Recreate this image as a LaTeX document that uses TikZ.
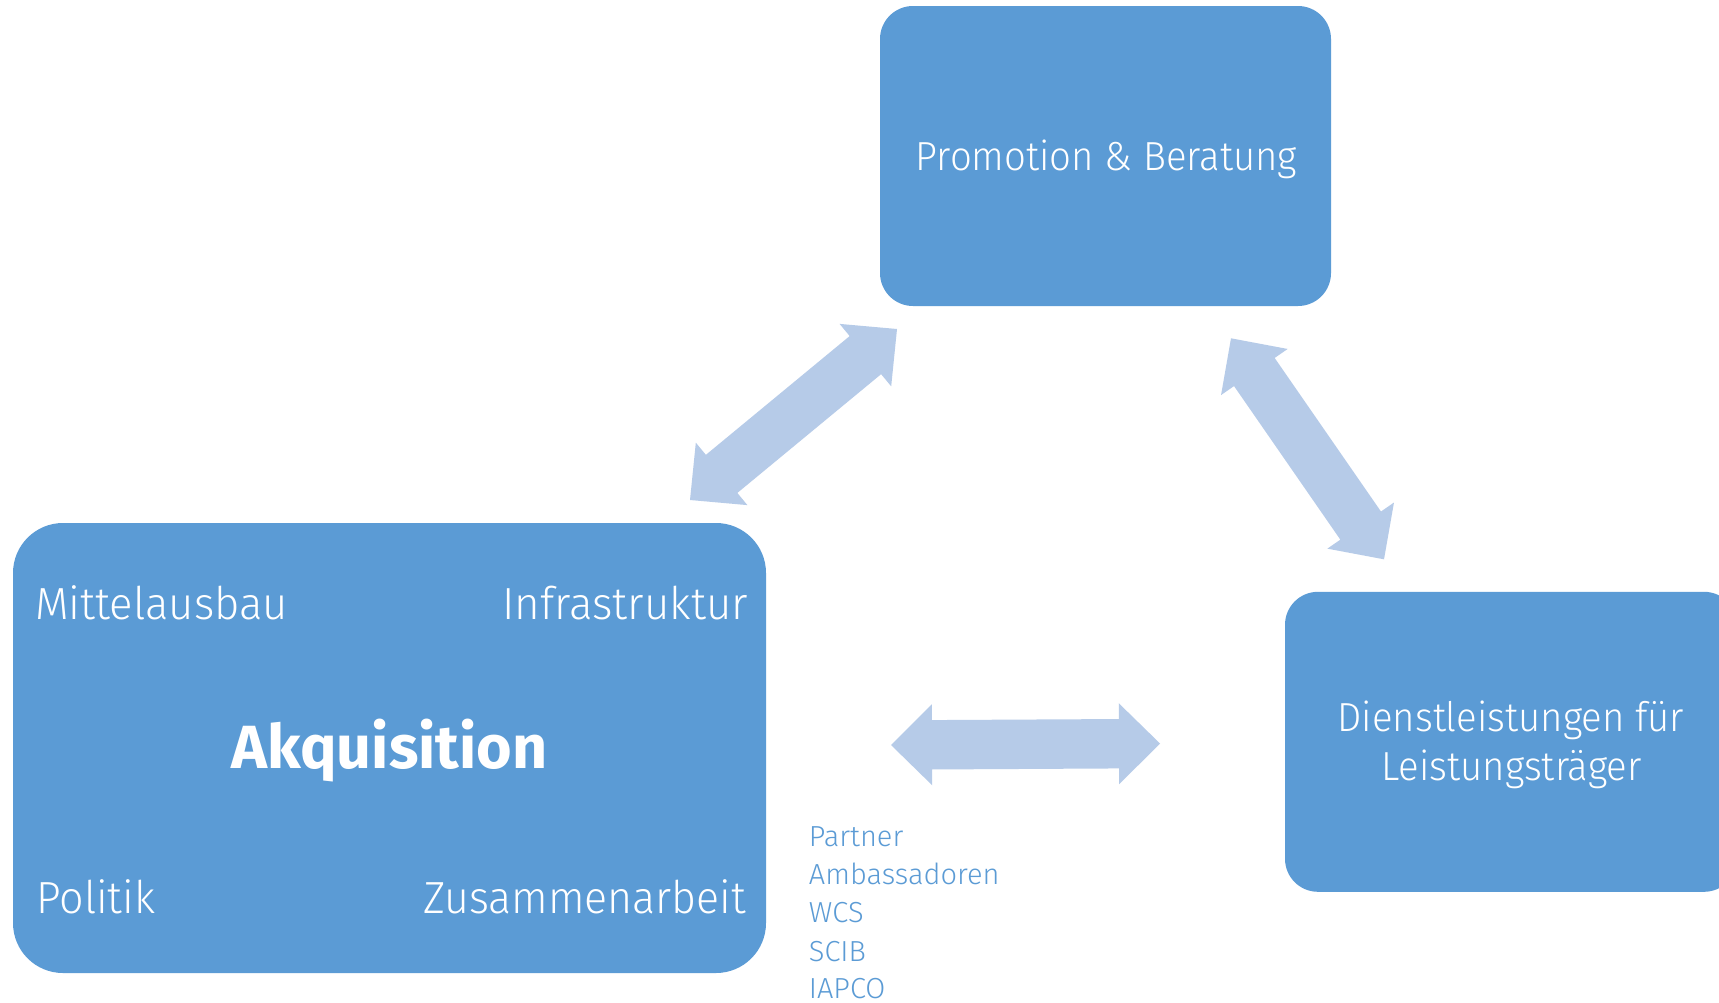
\documentclass[tikz,border=0pt]{standalone}
\usepackage{fontspec}
\setmainfont{Fira Sans}
\newfontfamily\lightfont{Fira Sans Light}
\usetikzlibrary{calc}
\definecolor{boxblue}{HTML}{5B9BD5}
\definecolor{arrowblue}{HTML}{B6CBE8}
\newcommand{\ahl}{41pt}
\newcommand{\ahw}{40.5pt}
\newcommand{\asw}{24.7pt}
\newcommand{\nx}[2]{\scalebox{#1}[1]{#2}}
\newcommand{\dblarrow}[2]{%
  \fill[arrowfill] (#1)
   -- ($(#1)!\ahl!(#2)!\ahw!90:(#2)$)
   -- ($(#1)!\ahl!(#2)!\asw!90:(#2)$)
   -- ($(#2)!\ahl!(#1)!\asw!-90:(#1)$)
   -- ($(#2)!\ahl!(#1)!\ahw!-90:(#1)$)
   -- (#2)
   -- ($(#2)!\ahl!(#1)!\ahw!90:(#1)$)
   -- ($(#2)!\ahl!(#1)!\asw!90:(#1)$)
   -- ($(#1)!\ahl!(#2)!\asw!-90:(#2)$)
   -- ($(#1)!\ahl!(#2)!\ahw!-90:(#2)$)
   -- cycle;}
\tikzset{
  bluebox/.style={fill=boxblue, draw=none, inner sep=0pt},
  arrowfill/.style={fill=arrowblue},
  boxtext/.style={text=white, inner sep=0pt, font=\lightfont\fontsize{40.6}{48.3}\selectfont},
  cornertext/.style={text=white, inner sep=0pt, font=\lightfont\fontsize{45}{54}\selectfont},
  titletext/.style={text=white, inner sep=0pt, font=\fontsize{61}{70}\selectfont\bfseries},
  listtext/.style={text=boxblue, inner sep=0pt, anchor=base west, font=\lightfont\fontsize{29}{38}\selectfont}
}
\begin{document}
\begin{tikzpicture}[x=1pt,y=-1pt]
\useasboundingbox (0,0) rectangle (1719,1002);
\fill[white] (0,0) rectangle (1719,1002);
% boxes
\node[bluebox, minimum width=451pt, minimum height=300pt, rounded corners=33pt] (promo) at (1105.5,156) {};
\node[bluebox, minimum width=753pt, minimum height=450pt, rounded corners=50pt] (akq) at (389.5,748) {};
\node[bluebox, minimum width=452pt, minimum height=300pt, rounded corners=33pt] (dienst) at (1511,741.8) {};
% box texts
\node[boxtext, anchor=base] (promotxt) at (1106.4,170) {\nx{0.944}{Promotion \& Beratung}};
\node[boxtext, anchor=base] (dien1) at (1511,731.7) {\nx{0.945}{Dienstleistungen für}};
\node[boxtext, anchor=base] (dien2) at (1511.5,780) {\nx{0.945}{Leistungsträger}};
\node[cornertext, anchor=base west] (mittel) at (35,619) {\nx{0.97}{Mittelausbau}};
\node[cornertext, anchor=base east] (infra) at (748,619) {\nx{0.975}{Infrastruktur}};
\node[titletext, anchor=base] (akqtxt) at (389.3,768.3) {Akquisition};
\node[cornertext, anchor=base west] (politik) at (36,913.3) {\nx{0.957}{Politik}};
\node[cornertext, anchor=base east] (zusammen) at (746,913.3) {\nx{0.953}{Zusammenarbeit}};
% list
\node[listtext] (l1) at (808.7,846.2) {Partner};
\node[listtext] (l2) at (808.7,884.5) {Ambassadoren};
\node[listtext] (l3) at (808.7,922.8) {WCS};
\node[listtext] (l4) at (808.7,961.2) {SCIB};
\node[listtext] (l5) at (808.7,998.6) {IAPCO};
% arrows
\coordinate (ulA) at (690,500);
\coordinate (ulB) at (897,329);
\coordinate (urA) at (1231,338.3);
\coordinate (urB) at (1384,559.3);
\coordinate (hA) at (891,745);
\coordinate (hB) at (1160,743.5);
\dblarrow{ulA}{ulB}
\dblarrow{urA}{urB}
\dblarrow{hA}{hB}
\end{tikzpicture}
\end{document}
